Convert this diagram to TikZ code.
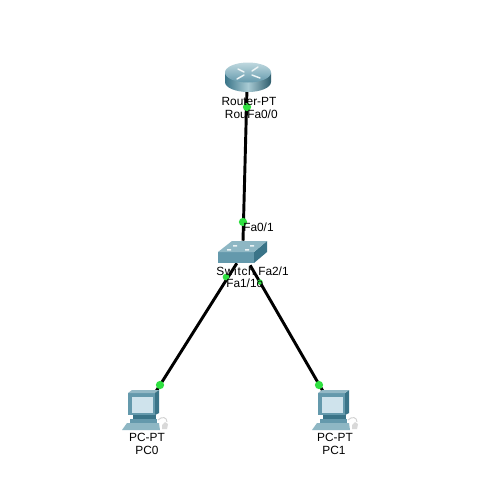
\documentclass[tikz,border=0pt]{standalone}
\usepackage{fontspec}
\setmainfont{Liberation Sans}
\definecolor{linkgreen}{HTML}{2FE040}
\definecolor{tealdark}{HTML}{3A7488}
\definecolor{tealmid}{HTML}{6499AC}
\definecolor{teallight}{HTML}{A9CBD4}
\definecolor{screenblue}{HTML}{CFE3EC}
\tikzset{
  link/.style={line width=2.2pt,black},
  linkdot/.style={circle,fill=linkgreen,inner sep=0pt,minimum size=6.2pt},
  lbl/.style={font=\fontsize{8.9pt}{9pt}\selectfont,inner sep=0pt,text=black},
  anchorpt/.style={inner sep=0pt,minimum size=0pt},
  pics/pcicon/.style={code={
    \draw[gray!35,line width=.7pt] (11,27) .. controls (15,23) and (20,24) .. (20,29);
    \fill[gray!30] (15,32) -- (18,29) -- (21,31) -- (20,36) -- (15,36) -- cycle;
    \fill[teallight!60!tealmid] (-25,37) -- (-20,30) -- (12,30) -- (13,37) -- cycle;
    \fill[tealdark] (-14,22) rectangle (9,26);
    \fill[tealmid] (-17,26) rectangle (10,30);
    \fill[tealmid] (-19,0) -- (8,0) -- (8,22) -- (-19,22) -- cycle;
    \fill[tealdark] (8,0) -- (12,-3) -- (12,20) -- (8,22) -- cycle;
    \fill[tealmid!70!white] (-19,0) -- (-15,-3) -- (12,-3) -- (8,0) -- cycle;
    \fill[screenblue] (-15,4) rectangle (6,20);
  }}
}
\begin{document}
\begin{tikzpicture}[x=0.75pt,y=-0.75pt]
\useasboundingbox (0,0) rectangle (476,501);
\fill[white] (0,0) rectangle (476,501);
% named end points
\node[anchorpt] (router) at (247,88) {};
\node[anchorpt] (switchtop) at (243,241) {};
\node[anchorpt] (switchl) at (237,263) {};
\node[anchorpt] (switchr) at (250,265) {};
\node[anchorpt] (pc0) at (155,393) {};
\node[anchorpt] (pc1) at (324,393) {};
% links
\draw[link] (router) -- (switchtop);
\draw[link] (switchl) -- (pc0);
\draw[link] (switchr) -- (pc1);
% router
\shade[left color=tealdark,right color=tealdark!80!black,middle color=teallight]
  (225,72.5) -- (225,82) arc[start angle=180,end angle=0,x radius=23,y radius=10] -- (271,72.5) -- cycle;
\shade[top color=teallight!75!white,bottom color=tealmid] (248,72.5) ellipse[x radius=23,y radius=10];
\draw[white!80!teallight,line width=1.1pt,line cap=round]
  (238,69) -- (244,72) (252,75) -- (260,78) (258,67) -- (252,71) (244,75) -- (237,79);
% switch
\fill[tealmid] (218,252) rectangle (254,263);
\fill[tealdark] (254,252) -- (267,241) -- (267,252) -- (254,263) -- cycle;
\fill[teallight!60!tealmid] (218,252) -- (232,241) -- (267,241) -- (254,252) -- cycle;
\fill[white!75!teallight] (233,245) rectangle (237,246.5) (250,245) rectangle (254,246.5) (227,249) rectangle (231,250.5) (245,249) rectangle (249,250.5);
% pcs
\pic at (147,393) {pcicon};
\pic at (337,393) {pcicon};
% link lights
\node[linkdot] (d1) at (247,107) {};
\node[linkdot] (d2) at (243,222) {};
\node[linkdot,minimum size=5pt] (d3) at (226,277) {};
\node[linkdot,minimum size=4pt] (d4) at (260,282) {};
\node[linkdot] (d5) at (160,385) {};
\node[linkdot] (d6) at (319,385) {};
% labels
\node[lbl] (l1) at (249,101) {Router-PT};
\node[lbl,anchor=east] (l2) at (247,114.5) {Rou};
\node[lbl,anchor=west] (l3) at (247,114.5) {Fa0/0};
\node[lbl,anchor=west] (l4) at (243,227) {Fa0/1};
\node[lbl,anchor=west,font=\fontsize{8.9pt}{9pt}\selectfont\addfontfeature{LetterSpace=6}] (l5) at (216,271) {Switch};
\node[lbl,anchor=west] (l6) at (258,271) {Fa2/1};
\node[lbl,anchor=west] (l7) at (226,283) {Fa1/1o};
\node[lbl] (l8) at (147,437) {PC-PT};
\node[lbl] (l9) at (147,450) {PC0};
\node[lbl] (l10) at (335,437) {PC-PT};
\node[lbl] (l11) at (334,450) {PC1};
\end{tikzpicture}
\end{document}
